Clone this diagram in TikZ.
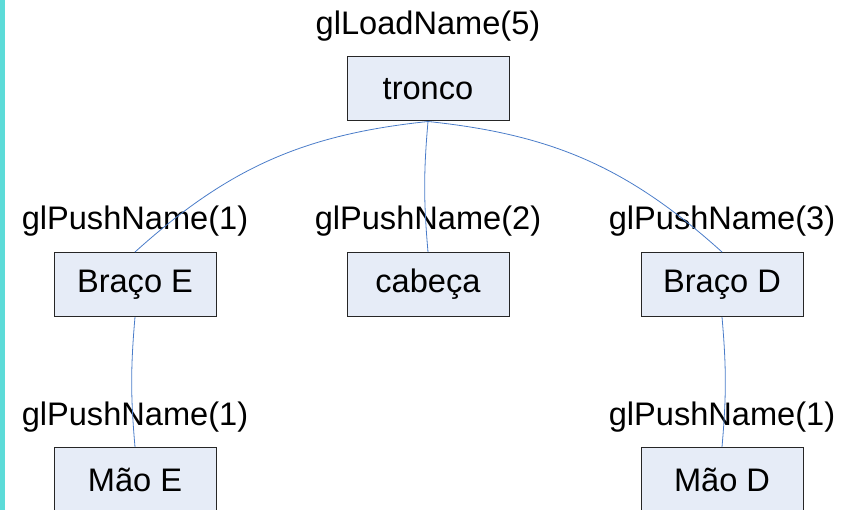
\documentclass[tikz,border=0pt]{standalone}
\usepackage{fontspec}
\setmainfont{Liberation Sans}
\definecolor{boxfill}{HTML}{E6ECF7}
\definecolor{wire}{HTML}{4A7CC9}
\definecolor{bar}{HTML}{5CDBD8}

\begin{document}
\begin{tikzpicture}[x=1pt,y=1pt]
\tikzset{b/.style={rectangle,draw=black!85,line width=1pt,fill=boxfill,
  minimum width=162pt,minimum height=64pt,inner sep=0pt,font=\fontsize{32.6}{38}\selectfont},
  lab/.style={anchor=base,inner sep=0pt,font=\fontsize{32.6}{38}\selectfont},
  w/.style={draw=wire,line width=0.8pt}}

\clip (0,0) rectangle (856,-510);
\fill[bar] (0,0) rectangle (5,-510);

\node[b] (t) at (428,-89) {tronco};
\node[b] (be) at (135,-284.5) {Braço E};
\node[b] (c) at (428,-284.5) {cabeça};
\node[b] (bd) at (722,-284.5) {Braço D};
\node[b] (me) at (135,-479.5) {Mão E};
\node[b] (md) at (722,-479.5) {Mão D};

\node[lab] (lt) at ([yshift=22pt]t.north) {glLoadName(5)};
\node[lab] (lbe) at ([yshift=22pt]be.north) {glPushName(1)};
\node[lab] (lc) at ([yshift=22pt]c.north) {glPushName(2)};
\node[lab] (lbd) at ([yshift=22pt]bd.north) {glPushName(3)};
\node[lab] (lme) at ([yshift=22pt]me.north) {glPushName(1)};
\node[lab] (lmd) at ([yshift=22pt]md.north) {glPushName(1)};

\draw[w] (t.south) to[out=186,in=42] (be.north);
\draw[w] (t.south) to[out=265,in=95] (c.north);
\draw[w] (t.south) to[out=-6,in=138] (bd.north);
\draw[w] (be.south) to[out=265,in=95] (me.north);
\draw[w] (bd.south) to[out=275,in=85] (md.north);
\end{tikzpicture}
\end{document}
